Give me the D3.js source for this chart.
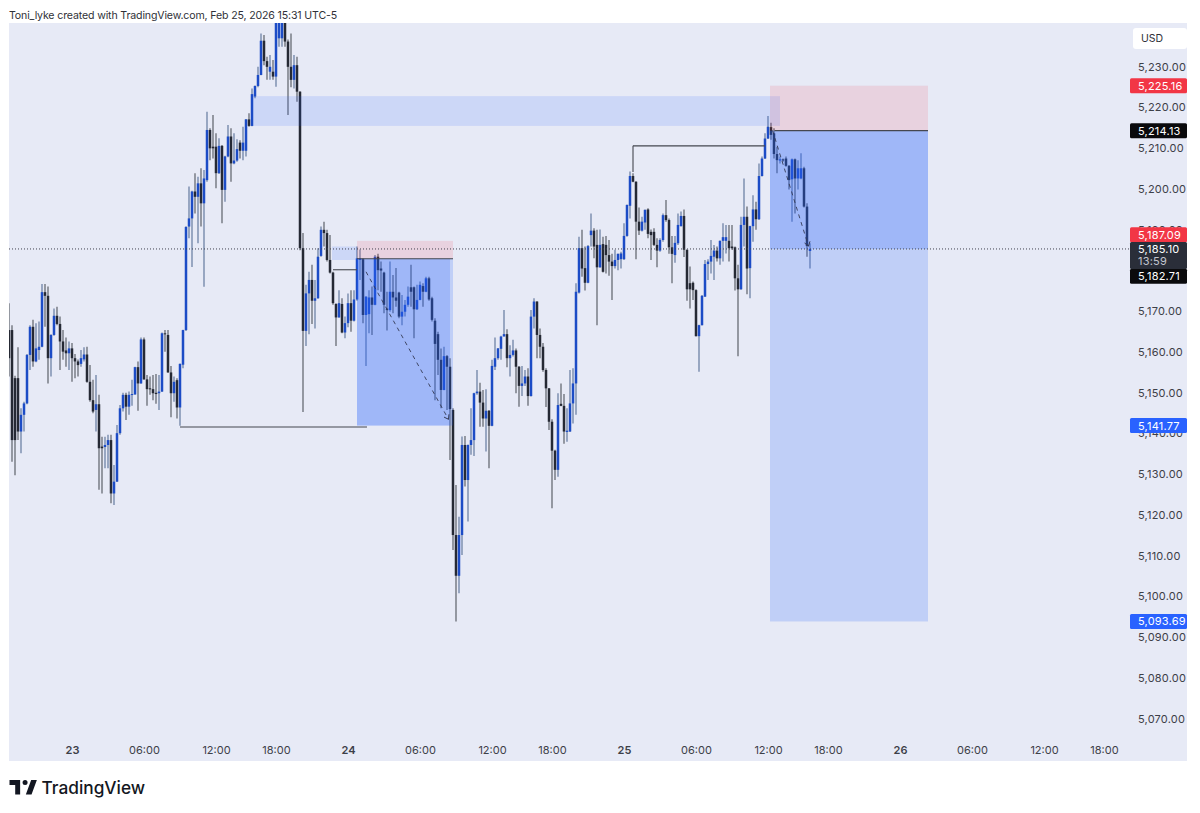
<!DOCTYPE html>
<html>
<head>
<meta charset="utf-8">
<script src="https://cdn.jsdelivr.net/npm/d3@7"></script>
<style>
  html, body { margin: 0; background: #fff; }
  svg { display: block; }
  text { font-family: Inter, "Noto Sans", sans-serif; }
</style>
</head>
<body>
<svg id="chart" width="1200" height="813"></svg>
<script>
// 15 minute bars, bar 0 is the one at the left edge
const opens = [
  5165.2,5165.2,5153.4,5153.4,5140.3,5144.4,5147.2,5159.1,5166.0,5157.5,
  5160.3,5161.1,5174.5,5173.6,5158.3,5164.0,5168.7,5166.7,5162.4,5160.2,
  5159.5,5160.7,5158.3,5157.5,5156.9,5158.0,5159.2,5152.5,5148.0,5145.6,
  5147.0,5136.6,5136.5,5137.0,5138.2,5125.1,5128.0,5139.9,5146.0,5149.3,
  5146.4,5149.3,5149.4,5156.1,5152.1,5162.9,5153.1,5150.9,5150.7,5149.8,
  5149.7,5150.1,5164.4,5164.0,5154.8,5149.7,5152.9,5146.2,5156.7,5165.2,
  5190.6,5192.6,5199.2,5197.9,5201.2,5196.3,5202.0,5214.3,5210.2,5210.2,
  5203.7,5210.4,5199.6,5207.8,5212.7,5206.1,5206.8,5211.2,5209.2,5209.2,
  5216.9,5215.3,5222.5,5225.1,5227.8,5236.2,5231.2,5228.6,5228.6,5227.4,
  5236.8,5236.8,5244.0,5236.0,5229.8,5226.6,5230.2,5223.7,5185.3,5165.0,
  5174.2,5177.5,5172.4,5173.0,5183.4,5189.8,5189.0,5182.4,5179.3,5171.6,
  5168.3,5171.6,5164.6,5166.9,5171.8,5167.5,5172.7,5182.4,5182.6,5168.9,
  5169.1,5173.2,5171.4,5183.2,5180.3,5179.3,5170.5,5170.1,5174.6,5173.2,
  5174.4,5168.5,5169.7,5171.4,5175.7,5175.7,5170.3,5172.6,5176.0,5174.6,
  5177.9,5173.0,5167.5,5164.2,5157.9,5150.5,5158.8,5156.2,5145.6,5114.9,
  5104.9,5114.9,5137.0,5128.4,5137.0,5138.2,5149.7,5150.1,5147.4,5143.5,
  5145.4,5141.7,5156.2,5158.3,5160.6,5163.6,5164.2,5158.3,5159.1,5160.2,
  5156.2,5151.5,5152.1,5153.8,5149.0,5168.5,5172.2,5164.0,5161.1,5155.4,
  5150.9,5142.7,5135.6,5130.9,5147.1,5146.6,5140.2,5140.3,5147.2,5152.1,
  5174.4,5185.3,5180.4,5176.8,5188.5,5189.6,5186.1,5180.6,5186.3,5186.1,
  5183.6,5182.0,5180.9,5182.4,5182.6,5182.6,5188.3,5195.7,5203.0,5201.6,
  5191.8,5189.6,5191.6,5194.8,5189.3,5189.3,5186.1,5184.7,5187.3,5193.4,
  5192.2,5185.5,5183.6,5186.5,5190.7,5193.2,5184.9,5176.7,5176.8,5175.0,
  5163.7,5166.4,5173.4,5181.4,5182.0,5183.2,5184.7,5182.8,5187.1,5187.1,
  5187.1,5185.7,5185.5,5177.9,5175.2,5191.0,5193.0,5180.4,5190.7,5194.8,
  5192.4,5203.0,5207.3,5212.2,5215.0,5213.5,5208.4,5206.8,5207.1,5207.3,
  5205.5,5202.2,5207.1,5202.4,5202.4,5204.9,5195.5,5184.6
]
const highs = [
  5171.8,5166.4,5154.0,5161.0,5146.0,5147.6,5159.3,5166.4,5167.7,5166.9,
  5167.3,5176.5,5176.5,5175.9,5164.2,5170.5,5170.9,5168.5,5165.2,5163.4,
  5162.4,5162.0,5159.3,5158.0,5160.3,5161.0,5161.1,5156.6,5153.0,5154.2,
  5149.3,5139.0,5139.0,5139.5,5139.5,5132.1,5141.9,5146.8,5149.8,5149.8,
  5150.1,5153.0,5156.2,5157.5,5163.4,5163.4,5154.2,5153.8,5154.2,5154.4,
  5154.2,5164.6,5165.2,5165.2,5156.4,5153.8,5153.4,5157.0,5165.3,5190.7,
  5200.4,5199.4,5203.7,5202.8,5204.9,5204.5,5218.8,5214.7,5218.0,5213.5,
  5212.3,5210.6,5208.0,5215.5,5214.7,5213.5,5212.0,5211.8,5215.1,5217.0,
  5218.4,5224.5,5225.2,5229.8,5238.0,5237.6,5232.3,5232.7,5231.5,5246.0,
  5246.0,5246.0,5246.0,5236.5,5238.0,5232.7,5232.3,5223.8,5189.0,5176.3,
  5179.5,5181.2,5177.5,5185.3,5190.6,5191.8,5189.8,5188.5,5179.5,5171.8,
  5175.0,5173.0,5168.5,5174.2,5175.0,5175.0,5185.7,5185.0,5182.8,5173.5,
  5175.0,5175.9,5183.6,5183.9,5182.0,5179.5,5174.6,5182.0,5178.7,5180.4,
  5174.6,5173.8,5172.6,5175.9,5181.2,5175.9,5176.3,5177.1,5176.7,5178.3,
  5178.3,5173.4,5168.1,5164.8,5160.7,5161.1,5159.1,5158.3,5146.0,5127.2,
  5119.4,5139.1,5139.2,5137.1,5146.0,5149.8,5155.4,5152.3,5150.5,5150.7,
  5145.6,5157.9,5163.4,5160.8,5163.8,5170.1,5165.4,5161.5,5162.8,5160.7,
  5156.4,5156.4,5155.4,5155.8,5170.1,5173.0,5172.3,5165.6,5162.0,5155.8,
  5151.0,5143.3,5135.8,5149.7,5152.1,5149.5,5146.0,5155.4,5155.8,5176.7,
  5188.1,5189.8,5185.7,5186.1,5193.8,5190.2,5189.8,5189.9,5188.1,5188.3,
  5187.3,5183.9,5184.9,5184.0,5184.4,5191.4,5196.0,5204.1,5203.7,5201.7,
  5195.3,5193.0,5194.8,5195.1,5189.9,5190.2,5187.7,5187.7,5193.8,5197.1,
  5192.6,5188.3,5188.3,5193.8,5194.3,5194.8,5185.0,5180.8,5177.1,5175.2,
  5166.5,5173.8,5182.4,5182.6,5187.3,5186.1,5185.7,5187.2,5191.4,5191.0,
  5191.0,5191.0,5185.7,5181.2,5193.0,5202.4,5195.5,5190.8,5198.3,5196.7,
  5206.1,5207.8,5213.5,5217.7,5216.1,5214.7,5210.2,5207.8,5207.3,5207.8,
  5205.7,5207.3,5207.3,5206.9,5208.6,5205.3,5196.3,5186.5
]
const lows = [
  5153.8,5132.9,5129.6,5138.2,5135.0,5140.3,5147.0,5155.4,5156.2,5157.3,
  5157.9,5161.0,5166.0,5152.1,5153.8,5163.8,5166.4,5155.4,5157.9,5156.2,
  5155.4,5152.5,5153.4,5153.8,5156.2,5157.5,5152.3,5147.6,5144.8,5140.3,
  5126.0,5125.1,5131.3,5131.3,5122.7,5122.3,5127.9,5139.5,5145.2,5143.1,
  5144.4,5146.6,5149.3,5145.4,5152.0,5153.0,5146.6,5149.3,5148.0,5147.1,
  5145.6,5150.0,5159.9,5154.7,5143.8,5147.6,5143.5,5141.7,5155.8,5165.0,
  5187.7,5180.7,5193.8,5186.5,5190.6,5175.8,5201.6,5206.9,5207.3,5200.0,
  5203.5,5191.4,5196.7,5207.6,5201.6,5205.9,5206.5,5207.3,5206.9,5207.8,
  5215.1,5215.2,5222.1,5224.8,5227.7,5230.2,5226.6,5226.6,5226.6,5224.9,
  5234.7,5234.7,5234.7,5218.0,5224.8,5224.5,5221.2,5184.8,5145.1,5161.3,
  5164.2,5166.7,5165.6,5172.9,5183.2,5185.7,5182.0,5179.1,5171.4,5161.3,
  5168.2,5164.4,5163.2,5165.9,5164.8,5167.3,5172.4,5177.5,5166.9,5156.4,
  5164.4,5164.0,5171.3,5175.0,5174.6,5169.3,5165.1,5169.7,5169.3,5170.9,
  5168.1,5166.4,5168.5,5170.9,5170.9,5163.2,5170.1,5172.5,5170.9,5174.5,
  5172.4,5167.3,5148.0,5154.2,5146.0,5150.4,5145.6,5133.3,5111.2,5093.7,
  5100.6,5110.0,5126.8,5118.2,5134.6,5134.3,5149.3,5141.5,5141.5,5135.4,
  5131.3,5141.6,5155.4,5157.9,5157.9,5164.0,5156.1,5153.8,5158.7,5149.7,
  5146.4,5149.0,5151.5,5146.6,5148.9,5165.6,5158.3,5158.3,5155.0,5146.3,
  5140.7,5121.5,5128.4,5129.2,5146.5,5137.3,5137.8,5140.2,5142.3,5144.4,
  5174.2,5178.3,5174.9,5176.7,5185.7,5182.8,5166.4,5180.5,5179.3,5179.1,
  5178.5,5172.6,5180.3,5179.9,5180.3,5182.4,5188.1,5192.6,5201.5,5182.6,
  5188.5,5189.4,5189.8,5187.7,5182.4,5185.8,5180.6,5184.4,5186.9,5191.8,
  5183.9,5176.7,5181.7,5186.1,5190.6,5183.1,5172.4,5170.5,5172.6,5163.6,
  5155.0,5166.3,5173.3,5177.5,5179.1,5177.5,5182.0,5181.2,5182.0,5184.0,
  5182.0,5184.9,5174.9,5158.8,5175.1,5185.7,5174.0,5173.0,5186.9,5189.8,
  5192.2,5202.9,5207.2,5212.1,5211.9,5207.3,5203.7,5206.1,5206.5,5205.3,
  5199.7,5191.8,5193.8,5199.7,5202.2,5195.3,5183.2,5180.3
]
const closes = [
  5158.3,5138.2,5138.2,5140.3,5144.4,5147.2,5159.1,5166.0,5157.5,5160.7,
  5161.1,5174.5,5173.6,5158.3,5164.0,5168.7,5166.7,5162.4,5159.9,5159.5,
  5160.7,5158.3,5157.5,5156.6,5158.3,5159.2,5152.5,5148.0,5145.2,5147.0,
  5136.2,5136.2,5137.0,5138.2,5125.1,5128.0,5139.9,5146.0,5149.3,5146.4,
  5149.3,5149.5,5156.1,5152.1,5162.9,5153.1,5150.7,5150.7,5149.7,5149.5,
  5150.1,5164.4,5164.2,5154.8,5149.7,5152.5,5146.2,5156.9,5165.2,5190.5,
  5192.6,5199.2,5197.9,5201.2,5196.3,5202.4,5214.3,5209.8,5209.8,5203.7,
  5210.4,5199.6,5207.8,5212.7,5206.1,5206.8,5209.6,5209.2,5211.2,5216.9,
  5215.3,5223.1,5225.1,5227.8,5236.2,5231.2,5229.8,5229.8,5227.4,5243.0,
  5243.0,5244.0,5236.0,5229.8,5226.6,5230.2,5223.7,5185.3,5165.0,5174.2,
  5177.5,5172.4,5173.0,5183.2,5189.8,5189.0,5182.4,5179.3,5171.8,5168.3,
  5171.8,5164.6,5166.9,5171.8,5167.5,5172.7,5182.8,5182.8,5168.9,5173.4,
  5173.2,5171.4,5183.2,5179.9,5179.8,5171.4,5170.1,5174.6,5173.2,5172.4,
  5168.5,5169.7,5171.4,5173.4,5174.6,5170.3,5172.6,5176.3,5174.6,5177.9,
  5172.7,5167.7,5161.8,5157.9,5150.5,5158.8,5156.2,5145.8,5114.9,5104.9,
  5114.9,5137.0,5128.4,5137.0,5138.2,5149.7,5150.1,5147.4,5143.5,5145.4,
  5141.7,5156.4,5158.3,5160.7,5163.6,5164.2,5158.3,5159.1,5160.2,5156.2,
  5151.5,5152.1,5153.8,5149.0,5168.5,5172.2,5164.0,5161.1,5155.4,5150.9,
  5142.7,5135.6,5130.9,5146.8,5146.6,5140.3,5140.5,5147.2,5152.1,5174.6,
  5185.3,5180.3,5176.8,5185.8,5189.6,5185.7,5180.6,5186.1,5179.5,5183.6,
  5182.0,5180.9,5182.4,5183.9,5184.0,5188.3,5195.9,5203.0,5201.6,5191.8,
  5189.6,5191.8,5194.7,5188.8,5188.5,5186.1,5184.7,5187.3,5193.4,5192.2,
  5185.5,5183.9,5186.6,5191.0,5193.2,5184.9,5175.2,5175.2,5175.0,5163.7,
  5166.4,5173.6,5181.4,5182.0,5183.4,5184.7,5182.8,5187.1,5188.0,5188.0,
  5185.3,5185.3,5177.9,5175.2,5191.0,5193.0,5180.3,5190.7,5194.8,5192.4,
  5203.0,5207.3,5212.2,5215.1,5213.1,5208.4,5206.9,5207.1,5206.8,5205.5,
  5202.0,5207.1,5202.4,5204.9,5204.9,5195.5,5185.8,5185.1
]

const timeTickBars = [21, 45, 69, 89, 113, 137, 161, 181, 205, 229, 253, 273, 297, 321, 345, 365]
const timeTickLabels = ['23', '06:00', '12:00', '18:00', '24', '06:00', '12:00', '18:00', '25', '06:00', '12:00', '18:00', '26', '06:00', '12:00', '18:00']
const priceTicks = [5230, 5220, 5210, 5200, 5190, 5180, 5170, 5160, 5150, 5140, 5130, 5120, 5110, 5100, 5090, 5080, 5070]

// the two position drawings: [first bar, last bar, stop, entry, current, target]
const firstTrade = [116, 148, 5187.09, 5182.71, 5141.77]
const secondTrade = [253.67, 306.33, 5225.16, 5214.13, 5185.10, 5093.69]
// [first bar, last bar, top price, bottom price]
const supplyZone = [81.33, 257, 5222.6, 5215.3]
const smallZone = [107.67, 116, 5185.7, 5182.4]
// [first bar, last bar, price]
const swingLow = [57, 119.33, 5141.4]
const swingHigh = [208, 252, 5210.4, 5204]
const midLevel = [108, 116, 5180]
// dashed path of each trade: [bar, price, bar, price]
const firstPath = [119, 5179.5, 146.5, 5143.3]
const secondPath = [254.5, 5214.2, 266.5, 5185.8]

const lastPrice = 5185.10
const countdown = '13:59'
const labelPrices = [5225.16, 5214.13, 5187.09, 5182.71, 5141.77, 5093.69]

const svg = d3.select('#chart')

const x = d3.scaleLinear().domain([0, 366]).range([9, 1107])
const y = d3.scaleLinear().domain([5230, 5070]).range([66, 718])
const fmt = d3.format(',.2f')

const panelTop = 23
const panelBottom = 761
const panelLeft = 9
const panelRight = 1187
const scaleLeft = 1130

svg.append('text')
  .attr('x', 9)
  .attr('y', 19)
  .attr('font-size', 10.6)
  .attr('letter-spacing', -0.15)
  .attr('fill', '#2f3138')
  .text('Toni_lyke created with TradingView.com, Feb 25, 2026 15:31 UTC-5')

svg.append('rect')
  .attr('x', panelLeft)
  .attr('y', panelTop)
  .attr('width', panelRight - panelLeft)
  .attr('height', panelBottom - panelTop)
  .attr('fill', '#e7eaf6')

svg.append('clipPath')
  .attr('id', 'plot')
  .append('rect')
  .attr('x', panelLeft)
  .attr('y', panelTop)
  .attr('width', scaleLeft - panelLeft)
  .attr('height', panelBottom - panelTop)

const plot = svg.append('g').attr('clip-path', 'url(#plot)')

// candles
const bars = d3.range(opens.length)

plot.append('g')
  .selectAll('line')
  .data(bars)
  .enter()
  .append('line')
  .attr('x1', i => x(i))
  .attr('x2', i => x(i))
  .attr('y1', i => y(highs[i]))
  .attr('y2', i => y(lows[i]))
  .attr('stroke', i => (closes[i] >= opens[i] ? '#64799f' : '#5d6069'))
  .attr('stroke-width', 1.2)

plot.append('g')
  .selectAll('rect')
  .data(bars)
  .enter()
  .append('rect')
  .attr('x', i => x(i) - 1.25)
  .attr('width', 2.5)
  .attr('y', i => y(Math.max(opens[i], closes[i])))
  .attr('height', i => Math.max(1, Math.abs(y(opens[i]) - y(closes[i]))))
  .attr('fill', i => (closes[i] >= opens[i] ? '#1c4cc6' : '#252934'))

// drawings go over the candles, they are all see through
function zone(x0, x1, p0, p1, color, alpha) {
  plot.append('rect')
    .attr('x', x(x0))
    .attr('width', x(x1) - x(x0))
    .attr('y', y(p0))
    .attr('height', y(p1) - y(p0))
    .attr('fill', color)
    .attr('fill-opacity', alpha)
}

function level(x0, x1, p) {
  plot.append('line')
    .attr('x1', x(x0))
    .attr('x2', x(x1))
    .attr('y1', y(p))
    .attr('y2', y(p))
    .attr('stroke', '#45474f')
    .attr('stroke-width', 1.1)
}

const blue = '#2962ff'
const red = '#f23645'

zone(supplyZone[0], supplyZone[1], supplyZone[2], supplyZone[3], blue, 0.14)
zone(smallZone[0], smallZone[1], smallZone[2], smallZone[3], blue, 0.14)

zone(firstTrade[0], firstTrade[1], firstTrade[2], firstTrade[3], red, 0.13)
zone(firstTrade[0], firstTrade[1], firstTrade[3], firstTrade[4], blue, 0.2)
zone(firstTrade[0], firstTrade[1] - 1, firstTrade[3], firstTrade[4], blue, 0.22)

zone(secondTrade[0], secondTrade[1], secondTrade[2], secondTrade[3], red, 0.13)
zone(secondTrade[0], secondTrade[1], secondTrade[3], secondTrade[5], blue, 0.2)
zone(secondTrade[0], secondTrade[1], secondTrade[3], secondTrade[4], blue, 0.22)

level(swingLow[0], swingLow[1], swingLow[2])
level(swingHigh[0], swingHigh[1], swingHigh[2])
level(midLevel[0], midLevel[1], midLevel[2])
level(firstTrade[0], firstTrade[1], firstTrade[3])
level(secondTrade[0] + 1.5, secondTrade[1], secondTrade[3])

plot.append('line')
  .attr('x1', x(swingHigh[0]))
  .attr('x2', x(swingHigh[0]))
  .attr('y1', y(swingHigh[2]))
  .attr('y2', y(swingHigh[3]))
  .attr('stroke', '#45474f')
  .attr('stroke-width', 1.1)

function dashedPath(p) {
  const x2 = x(p[2])
  const y2 = y(p[3])
  const a = Math.atan2(y2 - y(p[1]), x2 - x(p[0]))
  plot.append('line')
    .attr('x1', x(p[0]))
    .attr('y1', y(p[1]))
    .attr('x2', x2)
    .attr('y2', y2)
    .attr('stroke', '#343a55')
    .attr('stroke-width', 0.9)
    .attr('stroke-dasharray', '4 4')
  const head = d3.line()([
    [x2 - 5 * Math.cos(a - 0.6), y2 - 5 * Math.sin(a - 0.6)],
    [x2, y2],
    [x2 - 5 * Math.cos(a + 0.6), y2 - 5 * Math.sin(a + 0.6)]
  ])
  plot.append('path')
    .attr('d', head)
    .attr('fill', 'none')
    .attr('stroke', '#343a55')
    .attr('stroke-width', 1)
}

dashedPath(firstPath)
dashedPath(secondPath)

// last price line
svg.append('line')
  .attr('x1', panelLeft)
  .attr('x2', scaleLeft)
  .attr('y1', y(lastPrice))
  .attr('y2', y(lastPrice))
  .attr('stroke', '#40434e')
  .attr('stroke-width', 1)
  .attr('stroke-dasharray', '1 2')

// axes
const priceAxis = d3.axisRight(y)
  .tickValues(priceTicks)
  .tickSize(0)
  .tickPadding(0)
  .tickFormat(fmt)

const priceG = svg.append('g')
  .attr('transform', 'translate(1138,0.6)')
  .call(priceAxis)

const timeAxis = d3.axisBottom(x)
  .tickValues(timeTickBars)
  .tickSize(0)
  .tickPadding(0)
  .tickFormat((d, i) => timeTickLabels[i])

const timeG = svg.append('g')
  .attr('transform', 'translate(0,746.5)')
  .call(timeAxis)

priceG.select('.domain').remove()
timeG.select('.domain').remove()

priceG.selectAll('text')
  .attr('font-size', 11)
  .attr('font-family', 'Inter')
  .attr('fill', '#3d4048')
  .attr('letter-spacing', 0.2)

timeG.selectAll('text')
  .attr('font-size', 11)
  .attr('font-family', 'Inter')
  .attr('fill', '#3d4048')
  .attr('font-weight', (d, i) => (timeTickLabels[i].length === 2 ? 600 : 400))

// USD button
svg.append('rect')
  .attr('x', 1133)
  .attr('y', 28)
  .attr('width', 54)
  .attr('height', 21)
  .attr('rx', 3)
  .attr('fill', '#fff')

svg.append('text')
  .attr('x', 1141)
  .attr('y', 42)
  .attr('font-size', 10.5)
  .attr('fill', '#2f3138')
  .text('USD')

// price labels, the ones around the last price get pushed apart like on the site
const labelFill = { 5225.16: '#f23645', 5214.13: '#0a0a0c', 5187.09: '#f23645', 5182.71: '#0a0a0c', 5141.77: '#2962ff', 5093.69: '#2962ff' }
const labelShift = { 5187.09: -6, 5182.71: 17.5 }

function priceLabel(yCenter, h, fill) {
  svg.append('rect')
    .attr('x', scaleLeft)
    .attr('y', yCenter - h / 2)
    .attr('width', panelRight - scaleLeft)
    .attr('height', h)
    .attr('rx', 1.5)
    .attr('fill', fill)
}

function labelText(yCenter, text, fill) {
  svg.append('text')
    .attr('x', 1138)
    .attr('y', yCenter + 4)
    .attr('font-size', 11)
    .attr('letter-spacing', 0.2)
    .attr('fill', fill)
    .text(text)
}

labelPrices.forEach(p => {
  const cy = y(p) + (labelShift[p] || 0)
  priceLabel(cy, 15, labelFill[p])
  labelText(cy, fmt(p), '#fff')
})

priceLabel(y(lastPrice) + 6.5, 27, '#2a2e39')
labelText(y(lastPrice), fmt(lastPrice), '#fff')
labelText(y(lastPrice) + 12.5, countdown, '#c3c6cf')

// logo
const logo = svg.append('g').attr('transform', 'translate(9.5,775.5) scale(0.76)')
logo.append('path')
  .attr('fill', '#131722')
  .attr('d', 'M14 6H0v6.5h7.5V25H14zM29 25h-7.5L28.5 6H36zM20.5 12.6a3.3 3.3 0 1 0 0-6.6 3.3 3.3 0 0 0 0 6.6z')

svg.append('text')
  .attr('x', 41.5)
  .attr('y', 793.5)
  .attr('font-size', 17.3)
  .attr('font-weight', 500)
  .attr('fill', '#131722')
  .text('TradingView')
</script>
</body>
</html>
